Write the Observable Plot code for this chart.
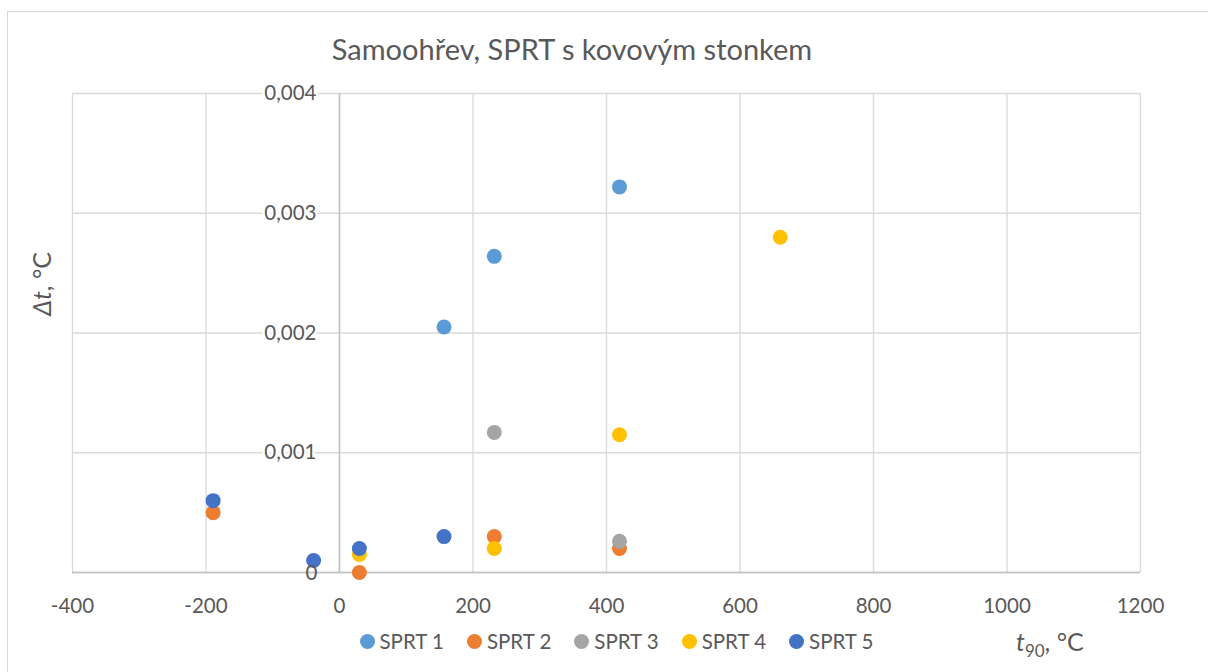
<!DOCTYPE html>
<html>
<head>
<meta charset="utf-8">
<script src="https://cdn.jsdelivr.net/npm/d3@7"></script>
<script src="https://cdn.jsdelivr.net/npm/@observablehq/plot@0.6"></script>
<style>
  html, body { margin: 0; padding: 0; background: #fff; }
  #wrap { position: relative; width: 1208px; height: 672px; overflow: hidden; font-family: Lato, "Open Sans", sans-serif; color: #595959; }
  #border { position: absolute; left: 7px; top: 11px; width: 1220px; height: 700px; border: 1.5px solid #D9D9D9; box-sizing: border-box; }
  #chart { position: absolute; left: 0; top: 0; }
  #title { position: absolute; left: 0; width: 1144px; top: 31px; text-align: center; font-size: 29px; line-height: 36px; white-space: nowrap; }
  #ylab { position: absolute; left: 41px; top: 284px; transform: translate(-50%, -50%) rotate(-90deg); font-size: 25px; white-space: nowrap; }
  #xlab { position: absolute; left: 1016px; top: 626px; font-size: 25px; line-height: 30px; white-space: nowrap; }
  #xlab sub { font-size: 17px; vertical-align: -6px; font-style: normal; }
  #legend { position: absolute; left: 359.5px; top: 628px; display: flex; font-size: 20.5px; line-height: 26px; }
  .item { display: flex; align-items: center; width: 107.4px; white-space: nowrap; }
  .sw { width: 15px; height: 15px; border-radius: 50%; margin-right: 5px; flex: none; }
</style>
</head>
<body>
<div id="wrap">
  <div id="border"></div>
  <div id="chart"></div>
  <div id="title"></div>
  <div id="ylab"><i>Δt</i>, °C</div>
  <div id="xlab"><i>t</i><sub>90</sub>, °C</div>
  <div id="legend"></div>
</div>
<script>
const titleText = "Samoohřev, SPRT s kovovým stonkem";
const seriesNames = ["SPRT 1", "SPRT 2", "SPRT 3", "SPRT 4", "SPRT 5"];
const seriesColors = ["#5B9BD5", "#ED7D31", "#A5A5A5", "#FFC000", "#4472C4"];

// fixed-point temperatures (°C) and self-heating Δt (°C) per thermometer
const sprt1T = [156.6, 231.9, 419.5];
const sprt1D = [0.00205, 0.00264, 0.00322];
const sprt2T = [-189.3, 29.76, 231.9, 419.5];
const sprt2D = [0.0005, 0.0, 0.0003, 0.0002];
const sprt3T = [231.9, 419.5];
const sprt3D = [0.00117, 0.00026];
const sprt4T = [29.76, 231.9, 419.5, 660.3];
const sprt4D = [0.00015, 0.0002, 0.00115, 0.0028];
const sprt5T = [-189.3, -38.8, 29.76, 156.6];
const sprt5D = [0.0006, 0.0001, 0.0002, 0.0003];

const xTicks = [-400, -200, 0, 200, 400, 600, 800, 1000, 1200];
const xTickLabels = ["-400", "-200", "0", "200", "400", "600", "800", "1000", "1200"];
const yTicks = [0, 0.001, 0.002, 0.003, 0.004];
const yTickLabels = ["0", "0,001", "0,002", "0,003", "0,004"];

const allT = [sprt1T, sprt2T, sprt3T, sprt4T, sprt5T];
const allD = [sprt1D, sprt2D, sprt3D, sprt4D, sprt5D];
const data = [];
seriesNames.forEach((s, i) => allT[i].forEach((t, j) => data.push({series: s, t, dt: allD[i][j]})));

const yLab = yTicks.map((v, i) => ({v, label: yTickLabels[i]}));
const xLab = xTicks.map((v, i) => ({v, label: xTickLabels[i]}));

const chart = Plot.plot({
  width: 1208,
  height: 672,
  marginLeft: 72,
  marginRight: 68,
  marginTop: 93,
  marginBottom: 100,
  style: {fontFamily: "Lato, 'Open Sans', sans-serif", background: "transparent"},
  x: {domain: [-400, 1200], axis: null},
  y: {domain: [0, 0.004], axis: null},
  color: {domain: seriesNames, range: seriesColors},
  marks: [
    Plot.gridX(xTicks, {stroke: "#D9D9D9", strokeOpacity: 1, strokeWidth: 1.3}),
    Plot.gridY(yTicks, {stroke: "#D9D9D9", strokeOpacity: 1, strokeWidth: 1.3}),
    Plot.ruleX([0], {stroke: "#BFBFBF", strokeWidth: 1.5}),
    Plot.ruleY([0], {stroke: "#BFBFBF", strokeWidth: 1.5}),
    Plot.text(yLab.filter(d => d.v !== 0), {x: 0, y: "v", text: "label", textAnchor: "end", dx: -23, fill: "#595959", stroke: "white", strokeWidth: 5, fontSize: 20.5}),
    Plot.text(xLab, {x: "v", y: 0, text: "label", dy: 34, fill: "#595959", fontSize: 20.5}),
    Plot.dot(data, {x: "t", y: "dt", fill: "series", r: 7.5}),
    Plot.text(yLab.filter(d => d.v === 0), {x: 0, y: "v", text: "label", textAnchor: "end", dx: -22, dy: 1, fill: "#595959", fontSize: 20.5})
  ]
});
document.getElementById("chart").appendChild(chart);
document.getElementById("title").textContent = titleText;

const legend = document.getElementById("legend");
seriesNames.forEach((s, i) => {
  const item = document.createElement("div");
  item.className = "item";
  const sw = document.createElement("span");
  sw.className = "sw";
  sw.style.background = seriesColors[i];
  const tx = document.createElement("span");
  tx.textContent = s;
  item.appendChild(sw);
  item.appendChild(tx);
  legend.appendChild(item);
});
</script>
</body>
</html>
